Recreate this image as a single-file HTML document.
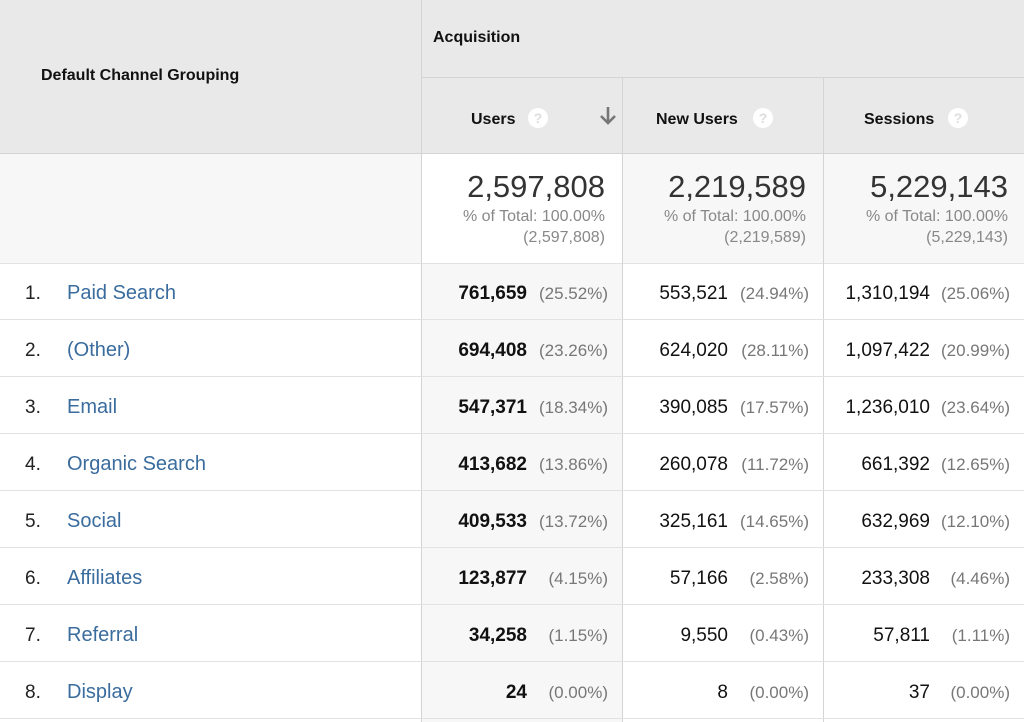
<!DOCTYPE html>
<html><head><meta charset="utf-8"><style>
body{margin:0;width:1024px;height:722px;overflow:hidden;background:#fff;font-family:"Liberation Sans",sans-serif;position:relative}
div{position:absolute;box-sizing:border-box}
.h{background:#e9e9e9}
.b{font-weight:bold;color:#111}
.vl{width:1px;background:#d4d4d4}
.hl{height:1px;background:#e2e2e2;left:0;width:1024px}
.q{width:20px;height:20px;border-radius:50%;background:#fff;color:#ddd;font-size:14px;text-align:center;line-height:20px;font-weight:bold}
.num{font-size:19px;color:#111;text-align:right;width:150px}
.pct{font-size:17px;color:#777;text-align:right;width:90px}
.tot{font-size:31px;color:#333;text-align:right;width:190px}
.sub{font-size:16px;color:#888;text-align:right;width:190px;line-height:21px}
.idx{font-size:19px;color:#222;left:25px}
.lnk{font-size:20px;color:#3a6c9e;left:67px}
</style></head><body>
<div class="h" style="left:0;top:0;width:1024px;height:153px"></div>
<div class="b" style="left:41px;top:67px;font-size:16px">Default Channel Grouping</div>
<div class="b" style="left:433px;top:29px;font-size:16px">Acquisition</div>
<div class="hl" style="left:422px;width:602px;top:77px;background:#d4d4d4"></div>
<div class="hl" style="top:153px;background:#d4d4d4"></div>
<div class="b" style="left:471px;top:111px;font-size:16px">Users</div>
<div class="q" style="left:528px;top:108px">?</div>
<svg style="position:absolute;left:599px;top:106px" width="18" height="20" viewBox="0 0 18 20"><path d="M9 1V17M2 10L9 17L16 10" stroke="#777" stroke-width="2.6" fill="none"/></svg>
<div class="b" style="left:656px;top:111px;font-size:16px">New Users</div>
<div class="q" style="left:753px;top:108px">?</div>
<div class="b" style="left:864px;top:111px;font-size:16px">Sessions</div>
<div class="q" style="left:948px;top:108px">?</div>
<div style="left:0;top:154px;width:422px;height:109px;background:#f7f7f7"></div>
<div style="left:623px;top:154px;width:401px;height:109px;background:#f7f7f7"></div>
<div style="left:422px;top:263px;width:201px;height:459px;background:#f7f7f7"></div>
<div class="tot" style="left:415px;top:169px">2,597,808</div>
<div class="sub" style="left:415px;top:206px">% of Total: 100.00%<br>(2,597,808)</div>
<div class="tot" style="left:616px;top:169px">2,219,589</div>
<div class="sub" style="left:616px;top:206px">% of Total: 100.00%<br>(2,219,589)</div>
<div class="tot" style="left:818px;top:169px">5,229,143</div>
<div class="sub" style="left:818px;top:206px">% of Total: 100.00%<br>(5,229,143)</div>
<div class="hl" style="top:263px"></div>
<div id="rows"></div>
<div class="vl" style="left:421px;top:0;height:722px"></div>
<div class="vl" style="left:622px;top:77px;height:645px"></div>
<div class="vl" style="left:823px;top:77px;height:645px"></div>
<script>
const channels=["Paid Search","(Other)","Email","Organic Search","Social","Affiliates","Referral","Display"];
const users=["761,659","694,408","547,371","413,682","409,533","123,877","34,258","24"];
const usersPct=["(25.52%)","(23.26%)","(18.34%)","(13.86%)","(13.72%)","(4.15%)","(1.15%)","(0.00%)"];
const newUsers=["553,521","624,020","390,085","260,078","325,161","57,166","9,550","8"];
const newUsersPct=["(24.94%)","(28.11%)","(17.57%)","(11.72%)","(14.65%)","(2.58%)","(0.43%)","(0.00%)"];
const sessions=["1,310,194","1,097,422","1,236,010","661,392","632,969","233,308","57,811","37"];
const sessionsPct=["(25.06%)","(20.99%)","(23.64%)","(12.65%)","(12.10%)","(4.46%)","(1.11%)","(0.00%)"];
const body=document.body;
function add(cls,txt,l,t,bold){const d=document.createElement('div');d.className=cls;d.textContent=txt;d.style.left=l+'px';d.style.top=t+'px';if(bold)d.style.fontWeight='bold';body.appendChild(d);return d;}
channels.forEach((c,i)=>{
 const y=263+i*57;
 const ty=y+20;
 let e=add('idx',(i+1)+'.',25,ty);
 
 
 e=add('lnk',c,67,ty-1);
 
 
 e=add('num',users[i],377,ty,true);
 
 
 e=add('pct',usersPct[i],518,ty+1);
 
 
 e=add('num',newUsers[i],578,ty);
 
 
 e=add('pct',newUsersPct[i],719,ty+1);
 
 
 e=add('num',sessions[i],780,ty);
 
 
 e=add('pct',sessionsPct[i],920,ty+1);
 
 
 e=add('hl','',0,y+56);
 
 
});
</script>
</body></html>
